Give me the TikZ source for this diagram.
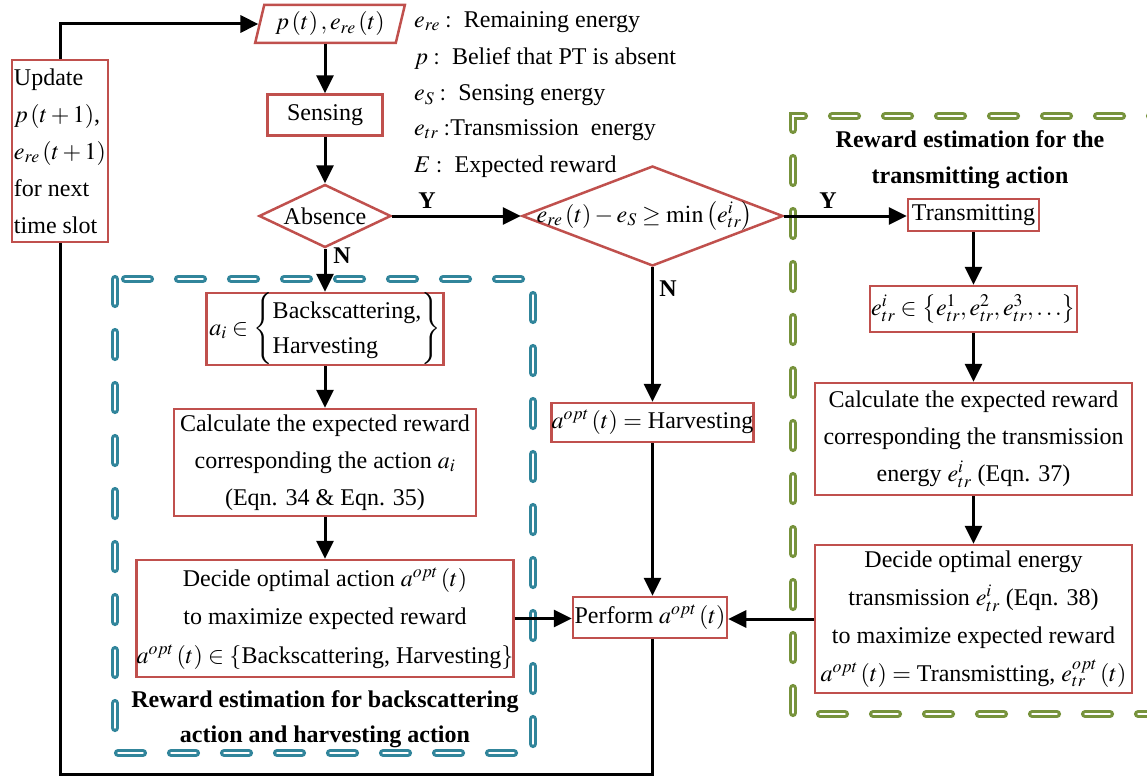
\documentclass[tikz,border=0pt]{standalone}
\usepackage{mathptmx}
\usepackage{fontspec}
\setmainfont{Liberation Serif}
\usetikzlibrary{shapes.geometric,arrows.meta}
\definecolor{boxred}{RGB}{192,80,77}
\definecolor{regblue}{RGB}{49,133,155}
\definecolor{reggreen}{RGB}{119,147,60}
\newcommand{\txt}{\fontsize{24}{37}\selectfont}
\newcommand{\ttl}{\fontsize{24}{35.5}\selectfont\bfseries}

\begin{document}
\begin{tikzpicture}[x=1pt,y=-1pt,
  box/.style={draw=boxred, line width=2.5pt, fill=white, rectangle, inner sep=0pt, font=\txt, align=center},
  dec/.style={draw=boxred, line width=2.5pt, fill=white, diamond, inner sep=0pt},
  plain/.style={font=\txt, inner sep=0pt},
  lbl/.style={font=\ttl, inner sep=0pt},
  line/.style={line width=3pt, draw=black},
  arr/.style={line width=3pt, draw=black, -{Triangle[length=18pt,width=17pt]}},
  region/.style={line width=3.4pt, double=white, double distance=1.4pt, line cap=round, dash pattern=on 25pt off 28pt},
]
\useasboundingbox (0,0) rectangle (1147,776);
\clip (0,0) rectangle (1147,776);

% dashed regions
\draw[region, draw=regblue] (115,279) rectangle (533,753);
\draw[region, draw=reggreen] (1175,116) -- (793,116) -- (793,714) -- (1175,714);

% main column
\node[box, trapezium, trapezium left angle=72.5, trapezium right angle=107.5,
      trapezium stretches=true, minimum width=150pt, minimum height=38pt] (input) at (330,24) {$p\left(t\right), e_{re}\left(t\right)$};
\node[box, minimum width=115pt, minimum height=41pt] (sens) at (325,115) {Sensing};
\node[dec, minimum width=132pt, minimum height=63pt] (abs) at (325,216) {};
\node[plain] (absT) at (abs) {Absence};

\node[dec, minimum width=261pt, minimum height=100pt] (cond) at (652.5,216) {};
\node[plain, xshift=-8pt] (condT) at (cond) {$e_{re}\left(t\right)-e_{S}\geq\min\left(e_{tr}^{i}\right)$};

% legend
\node[plain, anchor=west] (lg1) at (414,22) {$e_{re}:$\ \ Remaining energy};
\node[plain, anchor=west] (lg2) at (414,58) {$p:$\ \ Belief that PT is absent};
\node[plain, anchor=west] (lg3) at (414,95) {$e_{S}:$\ \ Sensing energy};
\node[plain, anchor=west] (lg4) at (414,130) {$e_{tr}:$Transmission\ \ energy};
\node[plain, anchor=west] (lg5) at (414,167) {$E:$\ \ Expected reward};

% update box
\node[box, align=left, minimum width=96pt, minimum height=182pt] (upd) at (60,151)
  {Update\\$p\left(t+1\right)$,\\$e_{re}\left(t+1\right)$\\for next\\time slot};

% backscattering / harvesting branch
\node[box, minimum width=237pt, minimum height=72pt, font=\fontsize{24}{35}\selectfont] (ai) at (325,329)
  {$a_{i}\in\left\{\begin{tabular}{@{}l@{}}Backscattering,\\Harvesting\end{tabular}\right\}$};
\node[box, minimum width=302pt, minimum height=107pt] (calcL) at (325,462.5)
  {Calculate the expected reward\\corresponding the action $a_{i}$\\(Eqn. 34 \& Eqn. 35)};
\node[box, minimum width=372pt, minimum height=117pt, font=\fontsize{24}{38.5}\selectfont] (decL) at (325,618.5)
  {Decide optimal action $a^{opt}\left(t\right)$\\to maximize expected reward\\$a^{opt}\left(t\right)\in\{$Backscattering, Harvesting$\}$};
\node[lbl, align=center] (titB) at (325,719) {Reward estimation for backscattering\\action and harvesting action};

% harvesting only / perform
\node[box, minimum width=199pt, minimum height=39pt] (harv) at (652.5,422.5) {$a^{opt}\left(t\right)=$ Harvesting};
\node[box, minimum width=154pt, minimum height=41pt] (perf) at (650,617.5) {Perform $a^{opt}\left(t\right)$};

% transmitting branch
\node[lbl, align=center] (titG) at (970,159.5) {Reward estimation for the\\transmitting action};
\node[box, minimum width=131pt, minimum height=32pt] (trans) at (973.5,215) {Transmitting};
\node[box, minimum width=207pt, minimum height=46pt] (etr) at (973.5,309)
  {$e_{tr}^{i}\in\left\{e_{tr}^{1},e_{tr}^{2},e_{tr}^{3},\ldots\right\}$};
\node[box, minimum width=317pt, minimum height=112pt] (calcR) at (973.5,439)
  {Calculate the expected reward\\corresponding the transmission\\energy $e_{tr}^{i}$ (Eqn. 37)};
\node[box, minimum width=317pt, minimum height=148pt, font=\fontsize{24}{38}\selectfont] (decR) at (973.5,619)
  {Decide optimal energy\\transmission $e_{tr}^{i}$ (Eqn. 38)\\to maximize expected reward\\$a^{opt}\left(t\right)=$ Transmistting, $e_{tr}^{opt}\left(t\right)$};

% branch labels
\node[lbl] (y1) at (427,201) {Y};
\node[lbl] (y2) at (828,201) {Y};
\node[lbl] (n1) at (342,256) {N};
\node[lbl] (n2) at (668,289) {N};

% connectors
\draw[arr] (sens.north |- input.south) -- (sens.north);
\draw[arr] (sens.south) -- (abs.north);
\draw[arr] (abs.east) -- (cond.west);
\draw[arr] (cond.east) -- (cond.east -| trans.west);
\draw[arr] (abs.south) -- (ai.north);
\draw[arr] (ai.south) -- (calcL.north);
\draw[arr] (calcL.south) -- (decL.north);
\draw[arr] (cond.south) -- (harv.north);
\draw[arr] (harv.south) -- (harv.south |- perf.north);
\draw[arr] (decL.east) -- (decL.east -| perf.west);
\draw[arr] (trans.south) -- (etr.north);
\draw[arr] (etr.south) -- (calcR.north);
\draw[arr] (calcR.south) -- (decR.north);
\draw[arr] (decR.west) -- (decR.west -| perf.east);

% feedback loop to the next time slot
\coordinate (bot) at (0,774);
\draw[line] (harv.south |- perf.south) -- (harv.south |- bot) -| (upd.south);
\draw[arr] (upd.north) |- (input.west);
\end{tikzpicture}
\end{document}
